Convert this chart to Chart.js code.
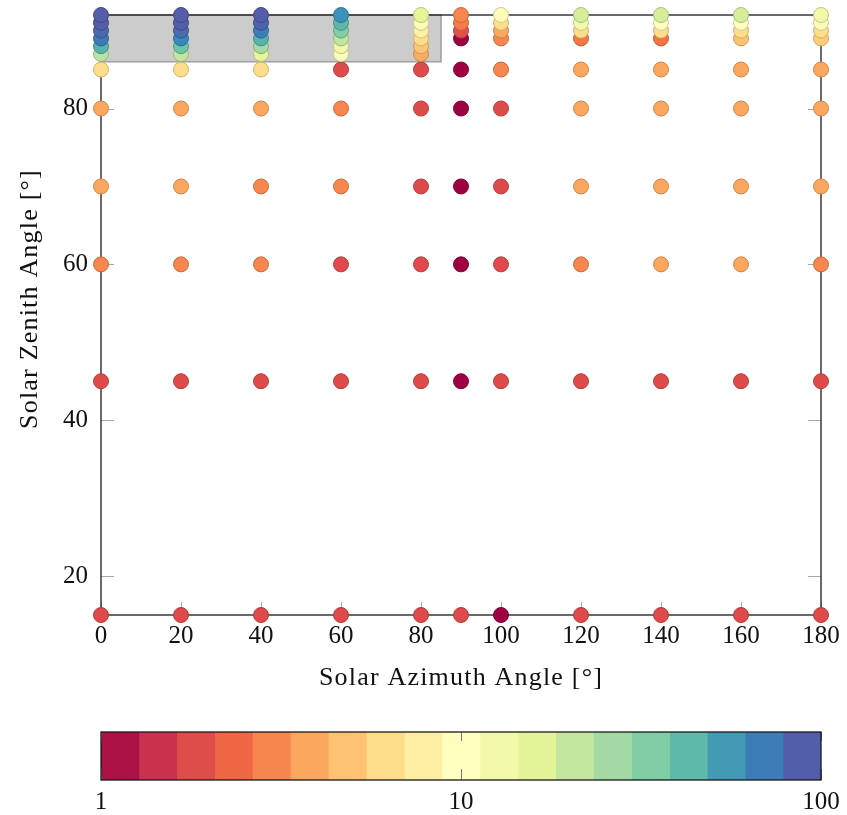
<!DOCTYPE html>
<html>
<head>
<meta charset="utf-8">
<script src="https://cdn.jsdelivr.net/npm/chart.js@4.4.1/dist/chart.umd.min.js"></script>
<style>
  html, body { margin: 0; padding: 0; background: #fff; }
  #wrap { position: relative; width: 847px; height: 815px; }
  #main { position: absolute; left: 0; top: 0; }
  #cbar { position: absolute; left: 0; top: 700px; }
</style>
</head>
<body>
<div id="wrap">
  <canvas id="main" width="847" height="700"></canvas>
  <canvas id="cbar" width="847" height="115"></canvas>
</div>
<script>
// ---------------- data ----------------
const azimuths = [0, 20, 40, 60, 80, 90, 100, 120, 140, 160, 180];
const zenithRows = [15, 45, 60, 70, 80, 85, 87, 88, 89, 90, 91, 92];
// values (log colour scale 1..100) per zenith row, one per azimuth (null = no point)
const vals15 = [1.8, 1.8, 1.8, 1.8, 1.8, 1.8, 1.0, 1.8, 1.8, 1.8, 1.8];
const vals45 = [1.8, 1.8, 1.8, 1.8, 1.8, 1.0, 1.8, 1.8, 1.8, 1.8, 1.8];
const vals60 = [3.0, 3.0, 3.0, 1.8, 1.8, 1.0, 1.8, 3.0, 3.8, 3.8, 3.0];
const vals70 = [3.8, 3.8, 3.0, 3.0, 1.8, 1.0, 1.8, 3.8, 3.8, 3.8, 3.8];
const vals80 = [3.8, 3.8, 3.8, 3.0, 1.8, 1.0, 1.8, 3.8, 3.8, 3.8, 3.8];
const vals85 = [6.2, 6.2, 6.2, 1.8, 1.8, 1.0, 3.0, 3.8, 3.8, 3.8, 3.8];
const vals87 = [22, 20.7, 16, 10.5, 3.9, null, null, null, null, null, null];
const vals88 = [45, 38, 26, 13, 4.9, null, null, null, null, null, null];
const vals89 = [70, 62, 45, 21, 6.2, 1.0, 3.0, 2.7, 2.6, 4.8, 5.3];
const vals90 = [82, 80, 68, 33, 8.0, 1.9, 3.8, 6.2, 6.2, 6.2, 6.2];
const vals91 = [88.6, 88.6, 85, 43, 11, 2.8, 6.2, 12.7, 10, 10, 11];
const vals92 = [88.6, 88.6, 88.6, 58, 16, 3.0, 9.5, 18, 18, 18, 13];
const rowValues = [vals15, vals45, vals60, vals70, vals80, vals85, vals87, vals88, vals89, vals90, vals91, vals92];

const xTickValues = [0, 20, 40, 60, 80, 100, 120, 140, 160, 180];
const yTickValues = [20, 40, 60, 80];
const cbTickValues = [1, 10, 100];
const shadeAz = [0, 85];
const shadeZen = [86, 92];
const cbLevels = 19;

// ---------------- colour map (Spectral) ----------------
const spectral = ['#9e0142','#d53e4f','#f46d43','#fdae61','#fee08b','#ffffbf','#e6f598','#abdda4','#66c2a5','#3288bd','#5e4fa2'];
const hexToRgb = h => [parseInt(h.slice(1,3),16), parseInt(h.slice(3,5),16), parseInt(h.slice(5,7),16)];
const spRgb = spectral.map(hexToRgb);
function cmap(t, k = 1) {
  t = Math.max(0, Math.min(1, t));
  const p = t * (spRgb.length - 1);
  const i = Math.min(Math.floor(p), spRgb.length - 2);
  const f = p - i;
  const c = spRgb[i].map((a, j) => Math.round((a + (spRgb[i + 1][j] - a) * f) * k));
  return `rgb(${c[0]},${c[1]},${c[2]})`;
}
const valueToT = v => Math.log10(v) / 2;

// ---------------- build points ----------------
const points = [];
zenithRows.forEach((zen, r) => {
  rowValues[r].forEach((v, c) => {
    if (v !== null) points.push({ x: azimuths[c], y: zen, v: v });
  });
});

const serif = "'Liberation Serif', 'DejaVu Serif', serif";
const zeroPad = s => { s.paddingTop = 0; s.paddingBottom = 0; s.paddingLeft = 0; s.paddingRight = 0; };

// ---------------- main chart ----------------
const framePlugin = {
  id: 'frame',
  beforeDatasetsDraw(chart) {
    const { ctx, chartArea: a, scales: { x, y } } = chart;
    ctx.save();
    const x0 = x.getPixelForValue(shadeAz[0]), x1 = x.getPixelForValue(shadeAz[1]);
    const y0 = y.getPixelForValue(shadeZen[1]), y1 = y.getPixelForValue(shadeZen[0]);
    ctx.fillStyle = '#cccccc';
    ctx.fillRect(x0, y0, x1 - x0, y1 - y0);
    ctx.strokeStyle = '#a3a3a3';
    ctx.lineWidth = 1.6;
    ctx.strokeRect(x0, y0, x1 - x0, y1 - y0);
    ctx.strokeStyle = '#a8a8a8';
    ctx.lineWidth = 1;
    const tl = 13;
    ctx.beginPath();
    xTickValues.forEach(v => {
      const px = Math.round(x.getPixelForValue(v)) + 0.5;
      ctx.moveTo(px, a.bottom); ctx.lineTo(px, a.bottom - tl);
      ctx.moveTo(px, a.top); ctx.lineTo(px, a.top + tl);
    });
    yTickValues.forEach(v => {
      const py = Math.round(y.getPixelForValue(v)) + 0.5;
      ctx.moveTo(a.left, py); ctx.lineTo(a.left + tl, py);
      ctx.moveTo(a.right, py); ctx.lineTo(a.right - tl, py);
    });
    ctx.stroke();
    ctx.strokeStyle = '#1a1a1a';
    ctx.lineWidth = 1.3;
    ctx.strokeRect(a.left, a.top, a.right - a.left, a.bottom - a.top);
    ctx.restore();
  },
  afterDraw(chart) {
    const { ctx, chartArea: a } = chart;
    ctx.save();
    ctx.fillStyle = '#111';
    ctx.font = `26px ${serif}`;
    try { ctx.letterSpacing = '1.2px'; } catch (e) {}
    ctx.textAlign = 'center';
    ctx.textBaseline = 'middle';
    ctx.fillText('Solar Azimuth Angle [°]', (a.left + a.right) / 2, 678);
    ctx.translate(30, 299);
    ctx.rotate(-Math.PI / 2);
    ctx.fillText('Solar Zenith Angle [°]', 0, 0);
    ctx.restore();
  }
};

new Chart(document.getElementById('main'), {
  type: 'scatter',
  data: {
    datasets: [{
      data: points,
      clip: false,
      pointRadius: 7.5,
      pointHoverRadius: 7.5,
      borderWidth: 1,
      backgroundColor: c => cmap(valueToT(c.raw.v)),
      borderColor: c => cmap(valueToT(c.raw.v), 0.8)
    }]
  },
  options: {
    responsive: false,
    animation: false,
    devicePixelRatio: 1,
    layout: { padding: { top: 15, right: 26, left: 0, bottom: 0 } },
    plugins: { legend: { display: false }, tooltip: { enabled: false } },
    scales: {
      x: {
        type: 'linear', min: 0, max: 180,
        grid: { display: false, drawTicks: false },
        border: { display: false },
        afterBuildTicks: s => { s.ticks = xTickValues.map(v => ({ value: v })); },
        afterFit: s => { s.height = 85; zeroPad(s); },
        ticks: { color: '#111', padding: 6, font: { family: serif, size: 25 }, maxRotation: 0, autoSkip: false, callback: v => String(v) }
      },
      y: {
        type: 'linear', min: 15, max: 92,
        grid: { display: false, drawTicks: false },
        border: { display: false },
        afterBuildTicks: s => { s.ticks = yTickValues.map(v => ({ value: v })); },
        afterFit: s => { s.width = 101; zeroPad(s); },
        ticks: { color: '#111', padding: 13, font: { family: serif, size: 25 }, autoSkip: false, callback: v => String(v) }
      }
    }
  },
  plugins: [framePlugin]
});

// ---------------- colour bar ----------------
const cbDatasets = [];
for (let i = 0; i < cbLevels; i++) {
  const lo = Math.pow(100, i / cbLevels), hi = Math.pow(100, (i + 1) / cbLevels);
  cbDatasets.push({
    data: [[lo, hi]],
    backgroundColor: cmap((i + 0.5) / cbLevels),
    borderWidth: 0,
    barPercentage: 1,
    categoryPercentage: 1,
    grouped: false
  });
}

const cbFrame = {
  id: 'cbFrame',
  afterDatasetsDraw(chart) {
    const { ctx, chartArea: a, scales: { x } } = chart;
    ctx.save();
    ctx.strokeStyle = '#777';
    ctx.lineWidth = 1;
    ctx.beginPath();
    cbTickValues.forEach(v => {
      const px = Math.round(x.getPixelForValue(v)) + 0.5;
      ctx.moveTo(px, a.top); ctx.lineTo(px, a.top + 9);
      ctx.moveTo(px, a.bottom); ctx.lineTo(px, a.bottom - 11);
    });
    ctx.stroke();
    ctx.strokeStyle = '#1a1a1a';
    ctx.lineWidth = 1.3;
    ctx.strokeRect(a.left, a.top, a.right - a.left, a.bottom - a.top);
    ctx.restore();
  }
};

new Chart(document.getElementById('cbar'), {
  type: 'bar',
  data: { labels: ['cb'], datasets: cbDatasets },
  options: {
    indexAxis: 'y',
    responsive: false,
    animation: false,
    devicePixelRatio: 1,
    layout: { padding: { top: 32, right: 26, left: 101, bottom: 0 } },
    plugins: { legend: { display: false }, tooltip: { enabled: false } },
    scales: {
      x: {
        type: 'logarithmic', min: 1, max: 100,
        grid: { display: false, drawTicks: false },
        border: { display: false },
        afterBuildTicks: s => { s.ticks = cbTickValues.map(v => ({ value: v })); },
        afterFit: s => { s.height = 35; zeroPad(s); },
        ticks: { color: '#111', padding: 7, font: { family: serif, size: 25 }, autoSkip: false, maxRotation: 0, callback: v => String(v) }
      },
      y: { display: false }
    }
  },
  plugins: [cbFrame]
});
</script>
</body>
</html>
